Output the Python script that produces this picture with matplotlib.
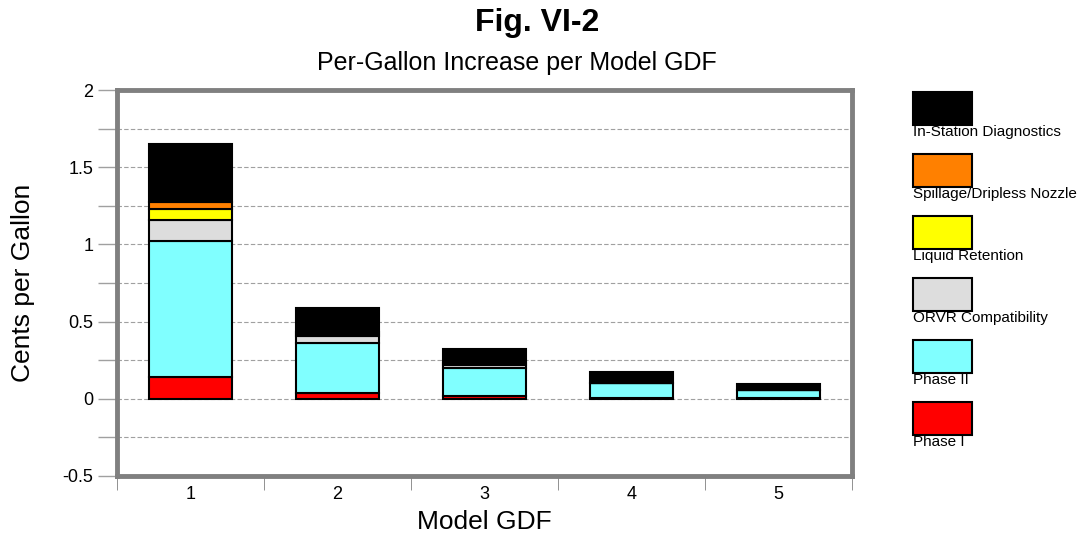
import numpy as np
import matplotlib.pyplot as plt
from matplotlib.patches import Rectangle

plt.rcParams['font.family'] = ['Liberation Sans', 'DejaVu Sans']

# --------------------------------------------------
# Data: cost components per model GDF (cents per gallon)
# --------------------------------------------------

models = ["1", "2", "3", "4", "5"]

phase_1 = [0.14, 0.04, 0.02, 0.005, 0.005]
phase_2 = [0.88, 0.32, 0.18, 0.095, 0.05]
orvr = [0.14, 0.045, 0.02, 0.0, 0.0]
liquid = [0.07, 0.015, 0.01, 0.0, 0.0]
spillage = [0.045, 0.01, 0.005, 0.0, 0.0]
isd = [0.375, 0.16, 0.09, 0.075, 0.04]

series = [
    ("Phase I", phase_1, "#ff0000"),
    ("Phase II", phase_2, "#80ffff"),
    ("ORVR Compatibility", orvr, "#dddddd"),
    ("Liquid Retention", liquid, "#ffff00"),
    ("Spillage/Dripless Nozzle", spillage, "#ff8000"),
    ("In-Station Diagnostics", isd, "#000000"),
]

# --------------------------------------------------
# Figure and axes
# --------------------------------------------------

fig = plt.figure(figsize=(10.83, 5.33), dpi=100)
ax = fig.add_axes([0.108, 0.107, 0.679, 0.724])

x = np.arange(len(models))
bottom = np.zeros(len(models))
for name, vals, color in series:
    vals = np.array(vals)
    ax.bar(x, vals, bottom=bottom, width=0.565, color=color,
           edgecolor="black", linewidth=1.5, zorder=3)
    bottom += vals

ax.set_xlim(-0.5, 4.5)
ax.set_ylim(-0.5, 2)
ax.set_yticks([-0.5, 0, 0.5, 1, 1.5, 2])
ax.set_yticklabels(["-0.5", "0", "0.5", "1", "1.5", "2"], fontsize=13)
ax.set_yticks(np.arange(-0.5, 2.01, 0.25), minor=True)
ax.set_xticks(x)
ax.set_xticklabels(models, fontsize=13)
ax.set_xticks(np.arange(-0.5, 4.51, 1), minor=True)
ax.tick_params(axis="x", which="major", length=0, pad=7)
ax.tick_params(axis="x", which="minor", length=10, color="#808080")
ax.tick_params(axis="y", which="both", length=14, color="#a0a0a0", width=1,
               pad=3)

ax.grid(axis="y", which="both", linestyle=(0, (4, 2)), color="#a0a0a0",
        linewidth=0.8, zorder=0)

for side in ax.spines.values():
    side.set_color("#808080")
    side.set_linewidth(3.5)

ax.set_xlabel("Model GDF", fontsize=19, labelpad=5)
ax.set_ylabel("Cents per Gallon", fontsize=19, labelpad=20)

fig.text(0.496, 0.957, "Fig. VI-2", ha="center", va="center",
         fontsize=23, fontweight="bold")
fig.text(0.477, 0.882, "Per-Gallon Increase per Model GDF", ha="center",
         va="center", fontsize=18)

# --------------------------------------------------
# Legend: swatch with label underneath, top to bottom
# --------------------------------------------------

W, H = 1083, 533
for i, (name, vals, color) in enumerate(reversed(series)):
    top = 92 + i * 62
    rect = Rectangle((913 / W, 1 - (top + 33) / H), 59 / W, 33 / H,
                     transform=fig.transFigure, facecolor=color,
                     edgecolor="black", linewidth=1.5)
    fig.patches.append(rect)
    fig.text(913 / W, 1 - (top + 33) / H, name, ha="left", va="top",
             fontsize=11)

fig.savefig("out.png", dpi=100)
